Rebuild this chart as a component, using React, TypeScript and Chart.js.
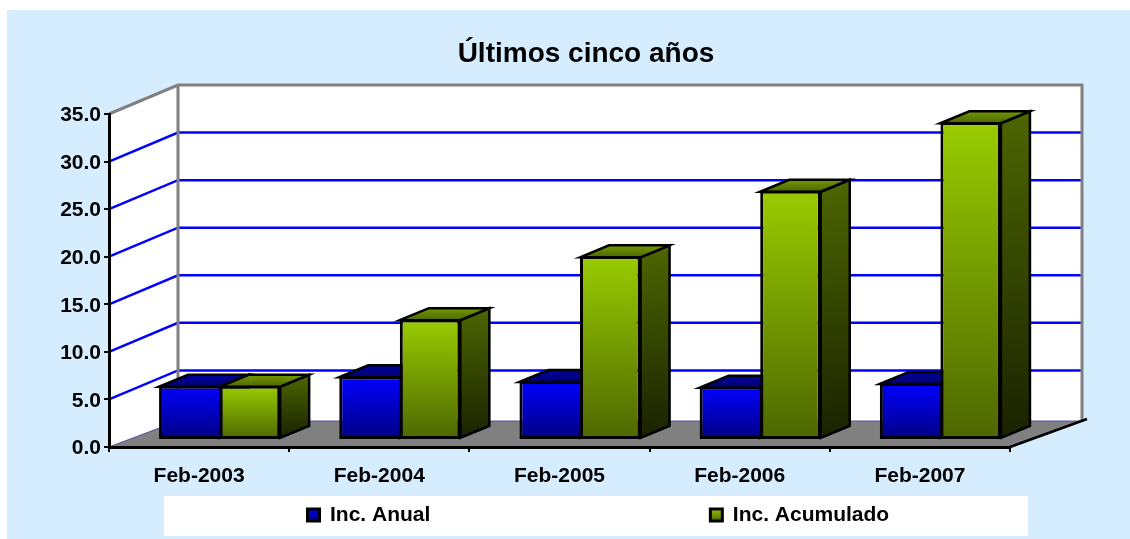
import React, { useEffect, useRef } from "react";
import { Chart, registerables } from "chart.js";

Chart.register(...registerables);

const categories = ["Feb-2003", "Feb-2004", "Feb-2005", "Feb-2006", "Feb-2007"];
const incAnual = [5.7, 6.7, 6.2, 5.6, 6.0];
const incAcumulado = [5.7, 12.7, 19.3, 26.2, 33.4];
const seriesNames = ["Inc. Anual", "Inc. Acumulado"];
const yTickStep = 5;
const yMax = 35;

const FONT = "'Liberation Sans', Arial, sans-serif";
const PANEL = "#d5edff";
const WALL_DX = 69;
const WALL_DY = -29;
const FLOOR_DY = -26;
const BAR_SHIFT_X = 20.5;
const BAR_SHIFT_Y = -7;
const DEPTH_X = 29;
const DEPTH_Y = -12;
const EDGE = 2.5;

const palette = [
  { front: ["#0000ff", "#000080"], side: ["#000080", "#000033"], top: ["#0000a0", "#000070"] },
  { front: ["#99cc00", "#4d6600"], side: ["#4d6600", "#1a2200"], top: ["#739900", "#4d6600"] },
];

function vGrad(ctx: CanvasRenderingContext2D, y0: number, y1: number, c: string[]) {
  const g = ctx.createLinearGradient(0, y0, 0, y1);
  g.addColorStop(0, c[0]);
  g.addColorStop(1, c[1]);
  return g;
}

function frontColor(ds: number) {
  return (c: any) => {
    if (c.dataIndex === undefined) return palette[ds].front[0];
    const y = c.chart.scales.y;
    return vGrad(c.chart.ctx, y.getPixelForValue(c.raw), y.getPixelForValue(0), palette[ds].front);
  };
}

function poly(ctx: CanvasRenderingContext2D, pts: number[][]) {
  ctx.beginPath();
  pts.forEach((p, i) => (i ? ctx.lineTo(p[0], p[1]) : ctx.moveTo(p[0], p[1])));
  ctx.closePath();
}

function drawFaces(ctx: CanvasRenderingContext2D, meta: any, index: number) {
  const c = palette[index];
  ctx.strokeStyle = "#000000";
  ctx.lineWidth = EDGE;
  ctx.lineJoin = "miter";
  meta.data.forEach((el: any) => {
    const l = el.x - el.width / 2;
    const r = el.x + el.width / 2;
    const t = el.y + 1;
    const b = el.base - 1;
    ctx.fillStyle = vGrad(ctx, t + DEPTH_Y, b, c.side);
    poly(ctx, [[r, t], [r + DEPTH_X, t + DEPTH_Y], [r + DEPTH_X, b + DEPTH_Y], [r, b]]);
    ctx.fill();
    ctx.stroke();
    ctx.fillStyle = vGrad(ctx, t + DEPTH_Y, t, c.top);
    poly(ctx, [[l, t], [l + DEPTH_X, t + DEPTH_Y], [r + DEPTH_X, t + DEPTH_Y], [r, t]]);
    ctx.fill();
    ctx.stroke();
  });
}

const scenePlugin = {
  id: "scene",
  beforeLayout(chart: any) {
    const l = chart.legend;
    if (!l.__wide) {
      const u = l.update.bind(l);
      l.update = (w: number, h: number, m: any) => u(3000, h, m);
      l.__wide = true;
    }
  },
  afterLayout(chart: any) {
    const l = chart.legend;
    const p = l.options.labels.padding;
    const lineW = l.lineWidths[0];
    l.right = 1400;
    l.left = 2 * 307.5 - p + lineW - l.right;
    l.top = 504.5 - p;
    l.bottom = 539;
  },
  beforeDraw(chart: any) {
    const { ctx, chartArea: a, scales } = chart;
    const y = scales.y;
    ctx.save();
    ctx.fillStyle = "#ffffff";
    ctx.fillRect(0, 0, chart.width, chart.height);
    ctx.fillStyle = PANEL;
    ctx.fillRect(7, 10, chart.width - 7, chart.height - 10);
    ctx.fillStyle = "#ffffff";
    ctx.fillRect(164, 496, 864, 40);

    const backL = a.left + WALL_DX;
    const backR = a.right + WALL_DX + 3;
    const topF = y.getPixelForValue(yMax);
    const botF = y.getPixelForValue(0);
    const topB = topF + WALL_DY;
    const botB = botF + FLOOR_DY;

    ctx.fillStyle = "#ffffff";
    poly(ctx, [[a.left, botF], [a.left, topF], [backL, topB], [backR, topB], [backR, botB], [backL, botB]]);
    ctx.fill();

    ctx.fillStyle = "#808080";
    poly(ctx, [[a.left, botF], [backL, botB], [backR, botB], [a.right, botF]]);
    ctx.fill();

    ctx.strokeStyle = "#0000ff";
    ctx.lineWidth = 2.5;
    y.ticks.forEach((t: any) => {
      if (t.value === 0 || t.value === yMax) return;
      const py = y.getPixelForValue(t.value);
      ctx.beginPath();
      ctx.moveTo(a.left, py);
      ctx.lineTo(backL, py + WALL_DY);
      ctx.lineTo(backR, py + WALL_DY);
      ctx.stroke();
    });

    ctx.strokeStyle = "#5050a0";
    ctx.lineWidth = 1;
    ctx.beginPath();
    ctx.moveTo(a.left, botF);
    ctx.lineTo(backL, botB);
    ctx.lineTo(backR, botB);
    ctx.stroke();

    ctx.strokeStyle = "#808080";
    ctx.lineWidth = 3;
    ctx.lineJoin = "miter";
    ctx.beginPath();
    ctx.moveTo(a.left, topF);
    ctx.lineTo(backL, topB);
    ctx.lineTo(backR, topB);
    ctx.lineTo(backR, botB);
    ctx.moveTo(backL, topB);
    ctx.lineTo(backL, botB);
    ctx.stroke();

    ctx.strokeStyle = "#000000";
    ctx.lineWidth = 2.5;
    ctx.beginPath();
    ctx.moveTo(a.right, botF);
    ctx.lineTo(backR + 5, botB - 2);
    ctx.stroke();
    ctx.restore();

    y.getLabelItems().forEach((item: any) => {
      if (!item.__moved) {
        item.options.translation[1] += 1.5;
        item.__moved = true;
      }
    });
  },
  beforeDatasetDraw(chart: any, args: any) {
    // Chart.js paints the last dataset first; the green bars must lie over the blue ones.
    if (args.index !== 0) return false;
    const { ctx } = chart;
    ctx.save();
    ctx.translate(BAR_SHIFT_X, BAR_SHIFT_Y);
    drawFaces(ctx, args.meta, 0);
    return true;
  },
  afterDatasetDraw(chart: any, args: any) {
    const { ctx } = chart;
    if (args.index === 0) {
      const green = chart.getDatasetMeta(1);
      drawFaces(ctx, green, 1);
      green.data.forEach((el: any) => el.draw(ctx));
    }
    ctx.restore();
  },
};

export default function App() {
  const ref = useRef<HTMLCanvasElement>(null);
  useEffect(() => {
    const ctx = ref.current!.getContext("2d")!;
    const chart = new Chart(ctx, {
      type: "bar",
      data: {
        labels: categories,
        datasets: [incAnual, incAcumulado].map((d, i) => ({
          label: seriesNames[i],
          data: d,
          backgroundColor: frontColor(i),
          borderColor: "#000000",
          borderWidth: i === 0 ? { left: 3, top: 3, bottom: 3, right: 0 } : 3,
          borderSkipped: false,
          categoryPercentage: 0.672,
          barPercentage: 1,
          clip: false as any,
          xAxisID: "x",
          yAxisID: "y",
        })),
      },
      options: {
        responsive: false,
        animation: false,
        events: [],
        layout: { padding: { left: 42, right: 0, top: 0, bottom: 0 } },
        plugins: {
          tooltip: { enabled: false },
          title: {
            display: true,
            text: "Últimos cinco años",
            color: "#000000",
            font: { family: FONT, size: 28, weight: "bold" },
            padding: { top: 37, bottom: 43.4 },
          },
          legend: {
            display: true,
            position: "bottom",
            maxHeight: 40,
            labels: {
              color: "#000000",
              boxWidth: 12,
              boxHeight: 12,
              padding: 280,
              font: { family: FONT, size: 21, weight: "bold" },
              generateLabels(c: any) {
                return c.data.datasets.map((d: any, i: number) => ({
                  text: d.label,
                  fillStyle: vGrad(c.ctx, 508, 521, palette[i].front),
                  strokeStyle: "#000000",
                  lineWidth: 3,
                  datasetIndex: i,
                  hidden: false,
                }));
              },
            },
          },
        },
        scales: {
          x: {
            type: "category",
            grid: { offset: true, drawOnChartArea: false, drawTicks: true, tickLength: 5, color: "#000000", lineWidth: 2 },
            border: { display: true, color: "#000000", width: 3 },
            ticks: { color: "#000000", padding: 12, maxRotation: 0, font: { family: FONT, size: 21, weight: "bold" } },
            afterFit(a: any) { a.height = 52; },
          },
          y: {
            min: 0,
            max: yMax,
            grid: { drawOnChartArea: false, drawTicks: true, tickLength: 5, color: "#000000", lineWidth: 2 },
            border: { display: true, color: "#000000", width: 3 },
            ticks: {
              stepSize: yTickStep,
              color: "#000000",
              padding: 3,
              font: { family: FONT, size: 21, weight: "bold" },
              callback: (v: any) => Number(v).toFixed(1),
            },
            afterFit(a: any) { a.width = 67; },
          },
          rightGap: {
            position: "right",
            display: true,
            grid: { display: false },
            border: { display: false },
            ticks: { display: false },
            afterFit(a: any) { a.width = 120; },
          },
        },
      } as any,
      plugins: [scenePlugin as any],
    });
    return () => chart.destroy();
  }, []);
  return (
    <div style={{ position: "fixed", left: 0, top: 0, width: 1130, height: 539 }}>
      <canvas ref={ref} width={1130} height={539} style={{ display: "block" }} />
    </div>
  );
}
